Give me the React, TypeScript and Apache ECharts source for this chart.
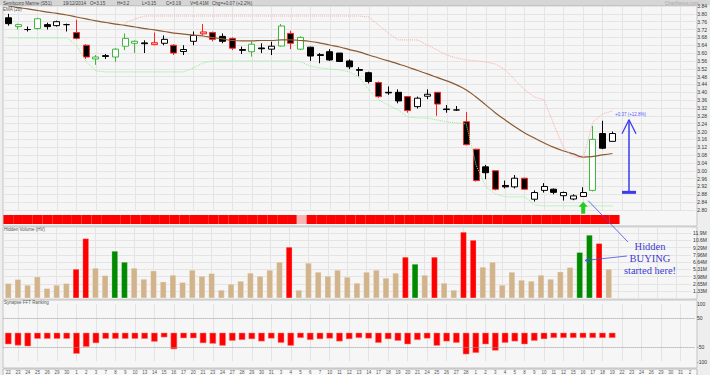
import React, { useEffect, useRef } from "react";
import * as echarts from "echarts";

const dates = ["22","23","24","25","26","29","30","1","2","3","7","8","9","10","13","14","15","16","17","20","21","23","24","27","28","29","30","31","3","4","5","6","7","10","11","12","13","14","17","18","19","20","21","24","25","26","27","28","1","2","3","4","5","8","9","10","11","12","15","16","17","18","19","22","23","24","26","29","30","31","2"];

const opens = [3.78,3.735,3.72,3.725,3.745,3.74,3.745,3.705,3.64,3.57,3.587,3.58,3.635,3.65,3.652,3.643,3.65,3.64,3.608,3.66,3.698,3.705,3.685,3.675,3.618,3.607,3.626,3.62,3.636,3.70,3.62,3.63,3.592,3.607,3.60,3.56,3.516,3.50,3.45,3.40,3.40,3.378,3.327,3.38,3.40,3.315,3.31,3.25,3.11,3.02,3.00,2.925,2.918,2.962,2.855,2.90,2.906,2.873,2.856,2.869,2.90,3.19,3.15];
const closes = [3.75,3.745,3.72,3.775,3.735,3.76,3.745,3.675,3.58,3.58,3.583,3.62,3.675,3.66,3.648,3.653,3.67,3.60,3.618,3.69,3.708,3.67,3.66,3.625,3.614,3.645,3.622,3.635,3.738,3.65,3.68,3.585,3.588,3.565,3.557,3.53,3.512,3.455,3.378,3.397,3.356,3.307,3.37,3.39,3.34,3.312,3.31,3.133,2.95,2.99,2.906,2.918,2.962,2.906,2.889,2.92,2.89,2.889,2.872,2.889,3.16,3.115,3.19];
const lows = [3.74,3.72,3.71,3.72,3.72,3.735,3.71,3.67,3.57,3.54,3.57,3.555,3.615,3.60,3.60,3.64,3.64,3.59,3.59,3.64,3.69,3.66,3.65,3.615,3.595,3.582,3.60,3.59,3.633,3.62,3.615,3.56,3.548,3.56,3.555,3.518,3.48,3.445,3.372,3.387,3.344,3.296,3.317,3.365,3.28,3.296,3.305,3.13,2.945,2.957,2.90,2.91,2.91,2.905,2.843,2.889,2.88,2.848,2.85,2.868,2.895,3.11,3.15];
const highs = [3.80,3.75,3.735,3.78,3.755,3.765,3.75,3.77,3.645,3.59,3.595,3.625,3.70,3.665,3.665,3.705,3.69,3.645,3.64,3.71,3.748,3.71,3.70,3.68,3.633,3.66,3.65,3.658,3.748,3.714,3.685,3.632,3.60,3.62,3.60,3.568,3.528,3.505,3.455,3.43,3.415,3.38,3.378,3.415,3.40,3.335,3.33,3.30,3.112,3.03,3.00,2.95,2.978,2.965,2.90,2.937,2.91,2.894,2.88,2.916,3.228,3.255,3.20];
const candleTypes = ["k","g","k","g","k","k","k","r","r","g","k","g","g","g","k","r","k","r","k","k","r","r","k","r","k","g","k","k","g","r","g","k","k","k","k","k","k","k","r","k","k","r","k","k","r","k","k","r","r","k","r","k","k","r","k","k","k","k","k","k","g","k","k"];

const ema20 = [3.840,3.832,3.825,3.817,3.809,3.802,3.794,3.784,3.774,3.764,3.756,3.748,3.741,3.733,3.725,3.718,3.710,3.702,3.697,3.692,3.687,3.679,3.672,3.664,3.662,3.662,3.664,3.664,3.667,3.667,3.664,3.659,3.651,3.641,3.631,3.618,3.606,3.590,3.575,3.560,3.545,3.529,3.511,3.494,3.476,3.458,3.438,3.412,3.376,3.336,3.295,3.259,3.224,3.193,3.167,3.142,3.119,3.101,3.086,3.070,3.073,3.081,3.088];

const sellStop = [null,null,null,null,null,null,null,null,null,null,null,null,3.753,3.774,3.789,3.789,3.789,3.789,3.789,3.789,3.789,3.789,3.789,3.789,3.789,3.789,3.789,3.789,3.789,3.789,3.789,3.789,3.789,3.789,3.789,3.789,3.789,3.784,3.743,3.702,3.667,3.667,3.667,3.641,3.616,3.590,3.575,3.565,3.560,3.555,3.544,3.514,3.463,3.412,3.376,3.361,3.234,3.116,3.070,3.065,3.249,3.290,3.305];
const buyStop = [3.677,3.677,3.677,3.677,3.677,3.677,3.677,3.641,3.555,3.509,3.504,3.504,3.504,3.504,3.504,3.504,3.504,3.504,3.504,3.524,3.550,3.560,3.560,3.560,3.560,3.560,3.560,3.560,3.560,3.560,3.555,3.534,3.524,3.519,3.514,3.504,3.478,3.412,3.361,3.335,3.310,3.274,3.269,3.269,3.259,3.249,3.244,3.239,3.030,2.918,2.882,2.867,2.867,2.867,2.826,2.821,2.821,2.821,2.821,2.821,2.821,2.821,2.821];

const trendBand = ["r","r","r","r","r","r","r","r","r","r","r","r","r","r","r","r","r","r","r","r","r","r","r","r","r","r","r","r","r","r","p","r","r","r","r","r","r","r","r","r","r","r","r","r","r","r","r","r","r","r","r","r","r","r","r","r","r","r","r","r","r","r","r"];

const hiddenVolume = [2.74,3.48,2.43,3.96,1.82,2.43,2.74,5.37,11.0,5.56,4.21,8.68,6.66,5.56,3.53,5.06,3.04,4.27,2.93,5.19,4.08,4.58,1.51,2.61,3.16,4.64,4.08,5.19,6.66,9.42,1.51,6.48,4.82,4.08,5.19,3.9,2.8,4.82,5.19,3.72,4.64,7.58,6.29,4.27,7.58,2.8,1.51,12.18,10.7,5.74,6.66,2.43,4.82,3.35,3.16,4.27,3.53,4.88,5.69,8.45,11.63,10.1,5.37];
const volumeTypes = ["t","t","t","t","t","t","t","r","r","t","t","g","g","t","t","t","t","t","t","t","t","t","t","t","t","t","t","t","t","r","t","t","t","t","t","t","t","t","t","t","t","r","g","t","r","t","t","r","r","t","t","t","t","t","t","t","t","t","t","g","g","r","t"];

const fftRanking = [-40,-44,-47,-21,-21,-21,-21,-73,-49,-36,-21,-21,-21,-21,-21,-31,-16,-57,-19,-19,-36,-38,-45,-28,-25,-22,-30,-20,-35,-45,-18,-25,-22,-20,-30,-22,-18,-20,-35,-22,-28,-40,-25,-20,-45,-30,-35,-75,-70,-40,-62,-35,-30,-40,-28,-22,-18,-18,-18,-18,-18,-18,-18];

const measureLow = 2.89;
const measureHigh = 3.26;
const sellLabel = "S=3.31";
const buyLabel = "B=2.82";

const volStep = 1.3275;
const FONT = "Liberation Sans, Arial, sans-serif";
const GRID_LEFT = 3.4;
const GRID_W = 694.4;

const borderMap: Record<string, string> = { k: "#000000", g: "#3cb83c", r: "#ff2020" };
const upFillMap: Record<string, string> = { k: "#ffffff", g: "#ffffff", r: "#ffb4b4" };
const volColorMap: Record<string, string> = { t: "#d2b48c", r: "#ff0000", g: "#008a00" };

function buildOption() {
  const gridLine = { color: "#e4e4e4", width: 1 };
  const xBase = (gi: number, extra: any = {}) => ({
    type: "category",
    gridIndex: gi,
    data: dates,
    boundaryGap: true,
    axisLine: { show: false },
    axisTick: { show: false },
    axisLabel: { show: false },
    splitLine: { show: true, interval: (i: number) => i % 2 === 1, alignWithLabel: true, lineStyle: gridLine },
    ...extra,
  });
  const yLabel = { fontSize: 5, color: "#333", margin: 2, fontFamily: FONT };
  return {
    animation: false,
    backgroundColor: "transparent",
    grid: [
      { left: GRID_LEFT, width: GRID_W, top: 6, height: 204 },
      { left: GRID_LEFT, width: GRID_W, top: 215, height: 9 },
      { left: GRID_LEFT, width: GRID_W, top: 227, height: 71.2 },
      { left: GRID_LEFT, width: GRID_W, top: 304, height: 63 },
    ],
    xAxis: [
      xBase(0),
      xBase(1, { splitLine: { show: false } }),
      xBase(2),
      xBase(3, { axisLabel: { show: true, interval: 0, fontSize: 4.5, color: "#555", margin: 8.5, fontFamily: FONT } }),
    ],
    yAxis: [
      {
        gridIndex: 0, type: "value", position: "right", min: 2.8, max: 3.84, interval: 0.04,
        axisLine: { show: false }, axisTick: { show: false },
        axisLabel: { ...yLabel, formatter: (v: number) => v.toFixed(2) },
        splitLine: { lineStyle: gridLine },
      },
      { gridIndex: 1, type: "value", min: 0, max: 1, show: false },
      {
        gridIndex: 2, type: "value", position: "right", min: 0, max: 13.1, interval: volStep,
        axisLine: { show: false }, axisTick: { show: false },
        axisLabel: { ...yLabel, formatter: (v: number) => (v < 0.5 || v > 12.5 ? "" : (v >= 10 ? v.toFixed(1) : v.toFixed(2)) + "M") },
        splitLine: { lineStyle: gridLine },
      },
      {
        gridIndex: 3, type: "value", position: "right", min: -100, max: 100, interval: 50,
        axisLine: { show: false }, axisTick: { show: false },
        axisLabel: { ...yLabel, formatter: (v: number) => (v === 0 ? "" : String(v)) },
        splitLine: { show: false },
      },
    ],
    series: [
      {
        type: "candlestick", xAxisIndex: 0, yAxisIndex: 0, barWidth: 6.5,
        itemStyle: { borderWidth: 1 },
        data: opens.map((o, i) => {
          const t = candleTypes[i];
          const fill = closes[i] >= o ? upFillMap[t] : "#000000";
          const b = borderMap[t];
          return {
            value: [o, closes[i], lows[i], highs[i]],
            itemStyle: { color: fill, color0: fill, borderColor: b, borderColor0: b, borderWidth: 1 },
          };
        }),
      },
      {
        type: "line", xAxisIndex: 0, yAxisIndex: 0, data: ema20, symbol: "none", smooth: true,
        lineStyle: { color: "#8b5a32", width: 1.2 },
      },
      {
        type: "line", xAxisIndex: 0, yAxisIndex: 0, symbol: "none",
        lineStyle: { color: "#ffaaaa", width: 1, type: "dotted" },
        data: sellStop.map((v, i) => i === sellStop.length - 1
          ? { value: v, label: { show: true, position: "right", distance: 1, offset: [0, -2], formatter: sellLabel, fontSize: 5, color: "#ff9a9a", fontFamily: FONT } }
          : v),
      },
      {
        type: "line", xAxisIndex: 0, yAxisIndex: 0, symbol: "none",
        lineStyle: { color: "#90ee90", width: 1, type: "dotted" },
        data: buyStop.map((v, i) => i === buyStop.length - 1
          ? { value: v, label: { show: true, position: "right", distance: 1, offset: [0, -2], formatter: buyLabel, fontSize: 5, color: "#88dd88", fontFamily: FONT } }
          : v),
      },
      {
        type: "bar", xAxisIndex: 1, yAxisIndex: 1, barCategoryGap: "0%", barWidth: "100%",
        data: trendBand.map((c) => ({ value: 1, itemStyle: { color: c === "p" ? "#f5b5b5" : "#ff0000" } })),
      },
      {
        type: "bar", xAxisIndex: 2, yAxisIndex: 2, barWidth: 6.3,
        data: hiddenVolume.map((v, i) => ({ value: v, itemStyle: { color: volColorMap[volumeTypes[i]], borderColor: "rgba(255,255,255,0.5)", borderWidth: 0.5 } })),
      },
      {
        type: "bar", xAxisIndex: 3, yAxisIndex: 3, barWidth: 6.5,
        itemStyle: { color: "#ff0000", borderColor: "#ff8080", borderWidth: 0.5 },
        data: fftRanking,
        markLine: {
          silent: true, symbol: "none", label: { show: false },
          lineStyle: { color: "#9a9a9a", type: "dotted", width: 1 },
          data: [{ yAxis: 50 }, { yAxis: -50 }],
        },
      },
    ],
  };
}

function txt(x: number, y: number, text: string, size: number, fill: string, extra: any = {}) {
  return {
    type: "text", x, y, z: 100,
    style: { text, fontSize: size, fill, fontFamily: FONT, align: "left", verticalAlign: "middle", textAlign: "left", textVerticalAlign: "middle", ...extra },
  };
}

export default function App() {
  const ref = useRef<HTMLDivElement>(null);
  useEffect(() => {
    const el = ref.current;
    if (!el) return;
    const chart = echarts.init(el, null, { renderer: "svg" });
    chart.setOption(buildOption() as any);

    const px = (gi: number, x: number, y: number) => chart.convertToPixel({ gridIndex: gi } as any, [x, y]) as unknown as number[];
    const a = px(0, 63, measureLow);
    const b = px(0, 64, measureHigh);
    const mx = a[0] + (b[0] - a[0]) * 0.7;
    const yLo = a[1];
    const yHi = b[1];
    const blue = "#3a3aee";
    const g59 = px(0, 59, lows[59]);
    const tipY = g59[1] + 5;
    const gx = g59[0];

    const panel = (y: number, h: number) => ({
      type: "rect", z: -10, shape: { x: 3, y, width: 694, height: h },
      style: { fill: "#f6f6f6", stroke: "#c4c4c4", lineWidth: 1 },
    });

    const graphic: any[] = [
      { type: "rect", z: -20, shape: { x: 0, y: 0, width: 710, height: 375 }, style: { fill: "#eeeeee" } },
      { type: "rect", z: -15, shape: { x: 0, y: 0, width: 710, height: 5.5 }, style: { fill: "#d6d6d6" } },
      panel(5.5, 220.5),
      panel(227, 72),
      panel(300, 68),
      { type: "rect", z: -10, shape: { x: 3, y: 369, width: 694, height: 8 }, style: { fill: "#f8f8f8", stroke: "#b8b8b8", lineWidth: 1 } },
      txt(3, 3, "Sembcorp Marine (S51)", 4.6, "#444"),
      txt(63, 3, "19/12/2014", 4.6, "#444"),
      txt(90, 3, "O=3.15", 4.6, "#444"),
      txt(117, 3, "H=3.2", 4.6, "#444"),
      txt(142, 3, "L=3.15", 4.6, "#444"),
      txt(166, 3, "C=3.19", 4.6, "#444"),
      txt(190, 3, "V=6.41M", 4.6, "#444"),
      txt(212, 3, "Chg=+0.07 (+2.2%)", 4.6, "#444"),
      txt(665, 3, "ChartNexus.com", 4.5, "#a8a8a8"),
      txt(3, 9.5, "EMA (20)", 4.5, "#555"),
      txt(4, 229.5, "Hidden Volume (HV)", 4.5, "#555"),
      txt(4, 302.5, "Synapse FFT Ranking", 4.5, "#555"),
      { type: "line", z: 50, shape: { x1: mx, y1: yLo, x2: mx, y2: yHi }, style: { stroke: blue, lineWidth: 1.5 } },
      { type: "line", z: 50, shape: { x1: mx, y1: yHi, x2: mx - 7, y2: yHi + 14 }, style: { stroke: blue, lineWidth: 1.3 } },
      { type: "line", z: 50, shape: { x1: mx, y1: yHi, x2: mx + 7, y2: yHi + 14 }, style: { stroke: blue, lineWidth: 1.3 } },
      { type: "rect", z: 50, shape: { x: mx - 7, y: yLo - 1.5, width: 14, height: 3 }, style: { fill: blue } },
      txt(mx - 14, yHi - 5, "+0.37 (+12.8%)", 4.5, "#5a5aff"),
      { type: "polygon", z: 50, shape: { points: [[gx, tipY], [gx + 4.5, tipY + 5], [gx + 2, tipY + 5], [gx + 2, tipY + 12], [gx - 2, tipY + 12], [gx - 2, tipY + 5], [gx - 4.5, tipY + 5]] }, style: { fill: "#22cc22" } },
      { type: "line", z: 50, shape: { x1: gx + 5, y1: tipY - 1, x2: 628, y2: 242 }, style: { stroke: "#4a4ae8", lineWidth: 0.8 } },
      { type: "line", z: 50, shape: { x1: 627, y1: 256, x2: 585, y2: 260.5 }, style: { stroke: "#4a4ae8", lineWidth: 0.8 } },
      { type: "polyline", z: 50, shape: { points: [[590, 257.5], [585, 260.5], [590.5, 263]] }, style: { stroke: "#4a4ae8", lineWidth: 0.8, fill: "none" } },
      txt(650, 246, "Hidden", 10.5, "#3c3cd0", { fontFamily: "Liberation Serif, serif", align: "center", textAlign: "center" }),
      txt(650, 258, "BUYING", 10.5, "#3c3cd0", { fontFamily: "Liberation Serif, serif", align: "center", textAlign: "center" }),
      txt(650, 270, "started here!", 10.5, "#3c3cd0", { fontFamily: "Liberation Serif, serif", align: "center", textAlign: "center" }),
    ];
    chart.setOption({ graphic } as any);
    return () => chart.dispose();
  }, []);
  return <div ref={ref} style={{ position: "absolute", left: 0, top: 0, width: 710, height: 375 }} />;
}
